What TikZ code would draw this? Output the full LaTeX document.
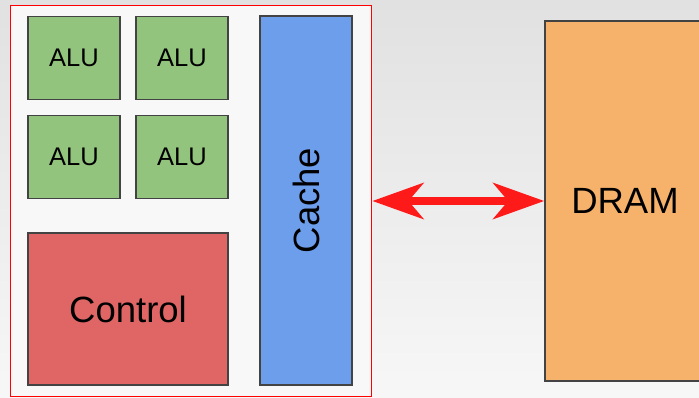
\documentclass[tikz,border=0pt]{standalone}
\usepackage{fontspec}
\setmainfont{Liberation Sans}
\usetikzlibrary{arrows.meta,shadows}

\definecolor{alugreen}{HTML}{93C47D}
\definecolor{cacheblue}{HTML}{6D9EEB}
\definecolor{ctrlred}{HTML}{E06666}
\definecolor{dramorange}{HTML}{F6B26B}
\definecolor{boxline}{HTML}{434343}
\definecolor{chipfill}{HTML}{F8F8F8}
\definecolor{bgtop}{HTML}{E1E1E1}
\definecolor{bgbot}{HTML}{F7F7F7}
\definecolor{linkred}{HTML}{FF1A1A}

\begin{document}
\begin{tikzpicture}[x=1pt,y=-1pt,
  unit/.style={draw=boxline, line width=1.5pt, inner sep=0pt,
    drop shadow={shadow xshift=1pt, shadow yshift=-1pt, opacity=0.25}},
  alu/.style={unit, fill=alugreen, minimum width=92pt, minimum height=83pt,
    font=\fontsize{25.5}{30}\selectfont},
  bigtext/.style={font=\fontsize{36.5}{44}\selectfont},
  link/.style={draw=linkred, line width=8pt,
    {Stealth[length=51pt,width=36pt,inset=15pt]}-{Stealth[length=51pt,width=36pt,inset=15pt]}}]

% backdrop
\shade[top color=bgtop, bottom color=bgbot] (0,0) rectangle (699,398);
\useasboundingbox (0,0) rectangle (699,398);

% the chip
\node[draw=red, line width=1.8pt, fill=chipfill, inner sep=0pt,
      minimum width=361pt, minimum height=391pt] (chip) at (191,201) {};

\node[alu] (alu1) at (74,58) {ALU};
\node[alu] (alu2) at (182,58) {ALU};
\node[alu] (alu3) at (74,157) {ALU};
\node[alu] (alu4) at (182,157) {ALU};

\node[unit, bigtext, fill=ctrlred, minimum width=200pt, minimum height=152pt] (control) at (128,309) {Control};
\node[unit, bigtext, fill=cacheblue, minimum width=92pt, minimum height=369pt] (cache) at (306,200.5) {\rotatebox{90}{Cache}};

% memory
\node[unit, bigtext, fill=dramorange, minimum width=160pt, minimum height=360pt] (dram) at (625,201) {DRAM};

\draw[link] (chip.east) -- (dram.west);

\end{tikzpicture}
\end{document}
